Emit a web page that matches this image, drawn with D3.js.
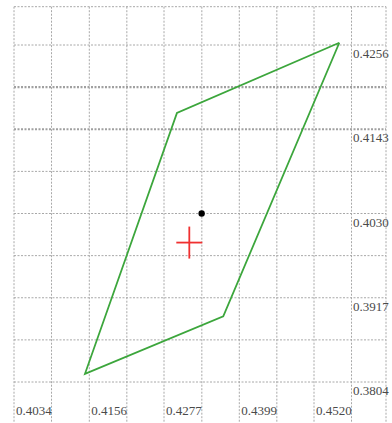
<!DOCTYPE html>
<html>
<head>
<meta charset="utf-8">
<script src="https://cdn.jsdelivr.net/npm/d3@7"></script>
<style>
html,body{margin:0;padding:0;background:#fff;}
svg{display:block;}
</style>
</head>
<body>
<svg id="chart" width="392" height="423"></svg>
<script>
// grid values
const xGrid = [0.4034, 0.40948, 0.4156, 0.42168, 0.4277, 0.43383, 0.4399, 0.44598, 0.4520, 0.45808];
const xLabels = [0.4034, 0.4156, 0.4277, 0.4399, 0.4520];
const yGrid = [0.4256, 0.41995, 0.4143, 0.40865, 0.4030, 0.39735, 0.3917, 0.38605, 0.3804];
const yLabels = [0.4256, 0.4143, 0.4030, 0.3917, 0.3804];
const yBold = [0.41995, 0.4143];
// polygon vertices
const polyX = [0.4561, 0.4298, 0.4149, 0.4373];
const polyY = [0.4259, 0.4165, 0.3815, 0.3892];
// black point and red cross
const dotX = [0.4338];
const dotY = [0.4030];
const crossX = [0.4318];
const crossY = [0.3991];

const svg = d3.select("#chart");
const x = d3.scaleLinear().domain([0.4034, 0.4520]).range([14, 314]);
const y = d3.scaleLinear().domain([0.4256, 0.3804]).range([45, 382]);

const L = 14, R = 386, T = 6.7, B = 423;
const gridColor = "#a8a8a8";
const g = svg.append("g");

// horizontal grid
g.selectAll("line.h").data(yGrid).join("line")
  .attr("x1", L).attr("x2", R)
  .attr("y1", d => y(d)).attr("y2", d => y(d))
  .attr("stroke", d => yBold.includes(d) ? "#a0a0a0" : gridColor)
  .attr("stroke-width", d => yBold.includes(d) ? 2.2 : 1)
  .attr("stroke-dasharray", "2,1.5");
// vertical grid
g.selectAll("line.v").data(xGrid).join("line")
  .attr("x1", d => x(d)).attr("x2", d => x(d))
  .attr("y1", T).attr("y2", B)
  .attr("stroke", gridColor).attr("stroke-width", 1)
  .attr("stroke-dasharray", "2,1.5");
// frame top & right
g.append("line").attr("x1", L).attr("x2", R).attr("y1", T).attr("y2", T)
  .attr("stroke", gridColor).attr("stroke-dasharray", "2,1.5");
g.append("line").attr("x1", R).attr("x2", R).attr("y1", T).attr("y2", B)
  .attr("stroke", gridColor).attr("stroke-dasharray", "2,1.5");

// labels
svg.selectAll("text.xl").data(xLabels).join("text")
  .attr("x", d => x(d) + 2).attr("y", 415)
  .attr("font-family", "Liberation Serif, serif").attr("font-size", 13)
  .attr("fill", "#4a4a4a")
  .text(d => d.toFixed(4));
svg.selectAll("text.yl").data(yLabels).join("text")
  .attr("x", 353).attr("y", d => y(d) + 13)
  .attr("font-family", "Liberation Serif, serif").attr("font-size", 13)
  .attr("fill", "#4a4a4a")
  .text(d => d.toFixed(4));

// polygon
const pts = polyX.map((v, i) => [v, polyY[i]]);
svg.append("path")
  .attr("d", d3.line().x(d => x(d[0])).y(d => y(d[1]))(pts.concat([pts[0]])))
  .attr("fill", "none").attr("stroke", "#3ca63c").attr("stroke-width", 1.8)
  .attr("stroke-linejoin", "miter");

// black dot
svg.selectAll("circle.dot").data(dotX).join("circle")
  .attr("cx", d => x(d)).attr("cy", (d, i) => y(dotY[i])).attr("r", 3.2)
  .attr("fill", "#000");

// red cross
crossX.forEach((cx, i) => {
  const px = x(cx), py = y(crossY[i]);
  svg.append("line").attr("x1", px - 13).attr("x2", px + 13).attr("y1", py).attr("y2", py)
    .attr("stroke", "#f03030").attr("stroke-width", 1.8);
  svg.append("line").attr("x1", px).attr("x2", px).attr("y1", py - 16).attr("y2", py + 16)
    .attr("stroke", "#f03030").attr("stroke-width", 1.8);
});
</script>
</body>
</html>
